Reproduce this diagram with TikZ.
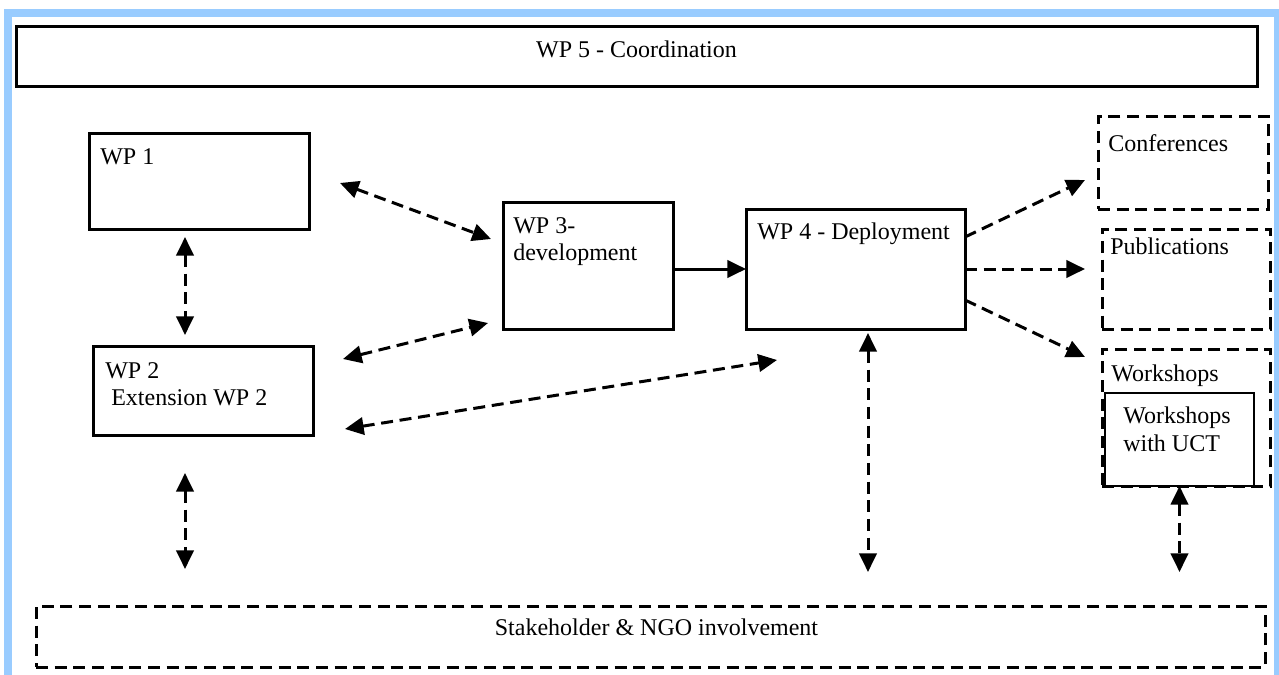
\documentclass[tikz,border=0pt]{standalone}
\usepackage{fontspec}
\setmainfont{Liberation Serif}
\usetikzlibrary{arrows.meta,positioning}

\definecolor{frameblue}{RGB}{153,204,255}

\tikzset{
  wpbox/.style={draw, line width=2.25pt, outer sep=0pt, inner sep=0pt, anchor=north west},
  dashbox/.style={wpbox, dash pattern=on 9pt off 5pt},
  wptext/.style={anchor=north west, align=left, inner sep=0pt, xshift=8.25pt, yshift=-11.25pt},
  midtext/.style={anchor=center, inner sep=0pt},
  link/.style={line width=2.25pt, dash pattern=on 9pt off 5pt},
  flow/.style={line width=2.25pt}
}

\begin{document}
\begin{tikzpicture}[x=0.75pt, y=-0.75pt, >={Triangle[length=14pt,width=13pt]},
  font=\fontsize{18}{20.5}\selectfont]
  \useasboundingbox (0,0) rectangle (1279,675);
  \draw[frameblue, line width=6pt] (8,700) -- (8,13) -- (1278,13) -- (1278,700);

  % work packages
  \node[wpbox, minimum width=930.75pt, minimum height=45pt,
    label={[midtext, yshift=5pt]center:WP 5 - Coordination}] (wp5) at (16,26) {};
  \node[wpbox, minimum width=165pt, minimum height=72pt,
    label={[wptext]north west:WP 1}] (wp1) at (89,133) {};
  \node[wpbox, minimum width=165pt, minimum height=66.75pt,
    label={[wptext, xshift=0.75pt, yshift=-1pt]north west:WP 2\\~Extension WP 2}] (wp2) at (93,346) {};
  \node[wpbox, minimum width=127.5pt, minimum height=95.25pt,
    label={[wptext, xshift=-0.75pt]north west:WP 3-\\development}] (wp3) at (503,202) {};
  \node[wpbox, minimum width=164.25pt, minimum height=90pt,
    label={[wptext, yshift=1pt]north west:WP 4 - Deployment}] (wp4) at (746,209) {};

  % dissemination
  \node[dashbox, minimum width=127.5pt, minimum height=69.75pt,
    label={[wptext, xshift=-0.75pt, yshift=-2.25pt]north west:Conferences}] (conf) at (1098,116) {};
  \node[dashbox, minimum width=126pt, minimum height=75pt,
    label={[wptext, xshift=-2.25pt, yshift=4.5pt]north west:Publications}] (pub) at (1102,229) {};
  \node[dashbox, minimum width=126pt, minimum height=102.75pt,
    label={[wptext, xshift=-1.5pt, yshift=-0.75pt]north west:Workshops}] (works) at (1102,349) {};
  \node[wpbox, line width=1.1pt, fill=white, minimum width=111.75pt, minimum height=69.75pt,
    label={[wptext, xshift=5.25pt, yshift=0.75pt]north west:Workshops\\with UCT}] (uct) at (1105,393) {};

  \node[dashbox, minimum width=921.75pt, minimum height=45.75pt,
    label={[midtext, xshift=4.5pt, yshift=6.75pt]center:Stakeholder \& NGO involvement}] (stake) at (36,606) {};

  % links between packages
  \draw[link,<->] ([shift={(31,2)}]wp1.east) -- ([shift={(-12,-26.5)}]wp3.west);
  \draw[link,<->] ([shift={(30,13)}]wp2.north east) -- ([shift={(-15,-6)}]wp3.south west);
  \draw[link,<->] ([shift={(32,-6)}]wp2.south east) -- ([shift={(31,31)}]wp4.south west);
  \draw[flow,->] (wp3.east |- wp4.west) -- (wp4.west);
  \draw[link,<->] ([shift={(-14,8)}]wp1.south) -- ([shift={(-18,-11)}]wp2.north);

  % links to stakeholders
  \draw[link,<->] ([shift={(-18,38)}]wp2.south) -- ([shift={(149,-37)}]stake.north west);
  \draw[link,<->] ([shift={(12.5,4)}]wp4.south) -- ([shift={(832,-34)}]stake.north west);
  \draw[link,<->] (uct.south) -- ([shift={(1143.5,-34)}]stake.north west);

  % outputs
  \draw[link,->] ([shift={(0,28)}]wp4.north east) -- ([shift={(-13,17.5)}]conf.west);
  \draw[link,->] (wp4.east) -- ([shift={(-17,-10)}]pub.west);
  \draw[link,->] ([shift={(0,31)}]wp4.east) -- ([shift={(-17,8)}]works.north west);
\end{tikzpicture}
\end{document}
